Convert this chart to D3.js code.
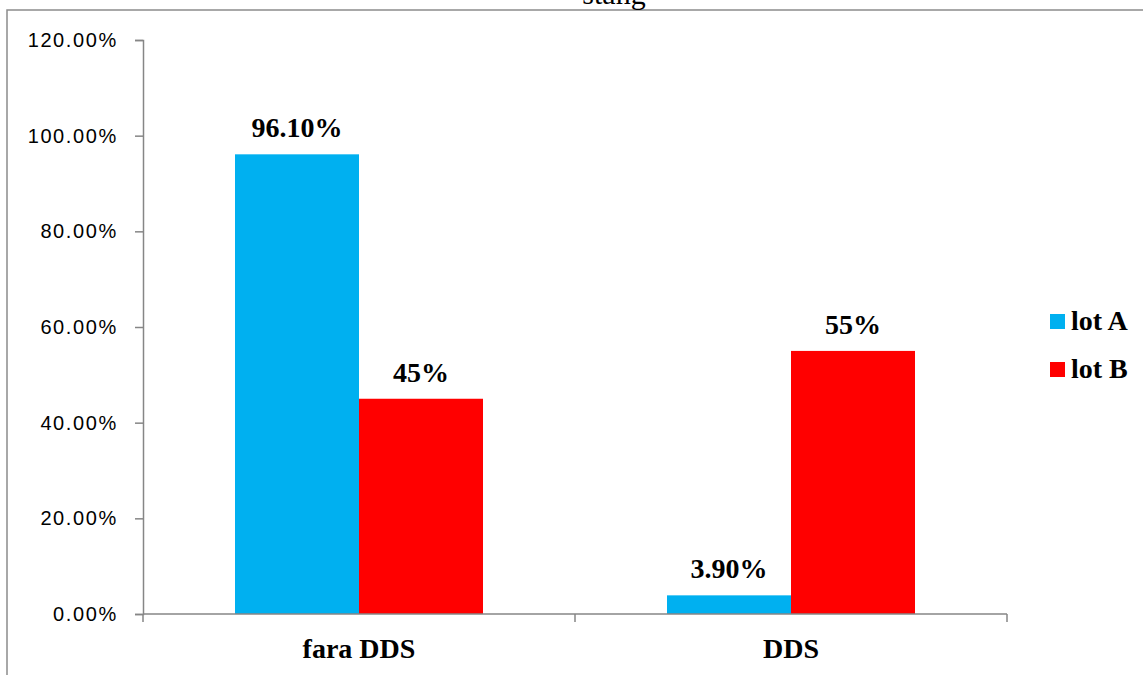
<!DOCTYPE html>
<html>
<head>
<meta charset="utf-8">
<script src="https://cdn.jsdelivr.net/npm/d3@7"></script>
<style>
  html, body { margin: 0; padding: 0; background: #fff; }
  svg { display: block; }
</style>
</head>
<body>
<svg id="chart" width="1143" height="675"></svg>
<script>
// Chart data
const categories = ["fara DDS", "DDS"];
const seriesNames = ["lot A", "lot B"];
const lotA = [0.961, 0.039];
const lotB = [0.45, 0.55];
const valueLabels = [["96.10%", "3.90%"], ["45%", "55%"]];
const yTicks = [0, 0.2, 0.4, 0.6, 0.8, 1.0, 1.2];
const colors = ["#00B0F0", "#FF0000"];

const serif = "'Liberation Serif', 'Times New Roman', serif";
const sans = "'Liberation Sans', Arial, sans-serif";

const svg = d3.select("#chart");
const plot = { left: 143, right: 1007, top: 40, bottom: 614 };

// Outer frame of the chart area
svg.append("rect")
  .attr("x", 7).attr("y", 10)
  .attr("width", 1200).attr("height", 700)
  .attr("fill", "none").attr("stroke", "#8c8c8c").attr("stroke-width", 1.5);

// Title (partly above the frame)
svg.append("text")
  .attr("x", 614).attr("y", 4)
  .attr("text-anchor", "middle")
  .attr("font-family", serif)
  .attr("font-size", 30)
  .text("stang");

const x0 = d3.scaleBand().domain(categories).range([plot.left, plot.right]).paddingInner(0).paddingOuter(0);
const x1 = d3.scaleBand().domain(seriesNames).range([0, x0.bandwidth()]).paddingInner(0).paddingOuter(0.742);
const y = d3.scaleLinear().domain([0, 1.2]).range([plot.bottom, plot.top]);

// Y axis
const yAxis = svg.append("g")
  .attr("transform", `translate(${plot.left},0)`)
  .call(d3.axisLeft(y).tickValues(yTicks).tickSize(8).tickPadding(19)
    .tickFormat(d => (d * 100).toFixed(2) + "%"));
yAxis.select(".domain").attr("stroke", "#868686").attr("stroke-width", 1.5);
yAxis.selectAll(".tick line").attr("stroke", "#868686").attr("stroke-width", 1.5);
yAxis.selectAll(".tick text")
  .attr("font-family", sans)
  .attr("font-size", 20)
  .attr("letter-spacing", 1.6)
  .attr("dx", 1.8)
  .attr("fill", "#000");

// Bars and value labels
const series = [lotA, lotB];
series.forEach((vals, si) => {
  svg.append("g").selectAll("rect")
    .data(vals)
    .join("rect")
    .attr("x", (d, i) => x0(categories[i]) + x1(seriesNames[si]))
    .attr("y", d => y(d))
    .attr("width", x1.bandwidth())
    .attr("height", d => y(0) - y(d))
    .attr("fill", colors[si]);

  svg.append("g").selectAll("text")
    .data(vals)
    .join("text")
    .attr("x", (d, i) => x0(categories[i]) + x1(seriesNames[si]) + x1.bandwidth() / 2)
    .attr("y", d => y(d) - 17)
    .attr("text-anchor", "middle")
    .attr("font-family", serif)
    .attr("font-weight", "bold")
    .attr("font-size", 28)
    .text((d, i) => valueLabels[si][i]);
});

// X axis
const xAxis = svg.append("g")
  .attr("transform", `translate(0,${plot.bottom})`);
xAxis.append("line")
  .attr("x1", plot.left).attr("x2", plot.right)
  .attr("stroke", "#868686").attr("stroke-width", 1.5);
const boundaries = [plot.left, ...categories.map(c => x0(c) + x0.bandwidth())];
xAxis.selectAll("line.tick")
  .data(boundaries)
  .join("line")
  .attr("class", "tick")
  .attr("x1", d => d).attr("x2", d => d)
  .attr("y1", 0).attr("y2", 8)
  .attr("stroke", "#868686").attr("stroke-width", 1.5);
xAxis.selectAll("text")
  .data(categories)
  .join("text")
  .attr("x", d => x0(d) + x0.bandwidth() / 2)
  .attr("y", 44)
  .attr("text-anchor", "middle")
  .attr("font-family", serif)
  .attr("font-weight", "bold")
  .attr("font-size", 28)
  .text(d => d);

// Legend
const legend = svg.append("g").attr("transform", "translate(1050,314)");
seriesNames.forEach((name, i) => {
  const g = legend.append("g").attr("transform", `translate(0,${i * 48})`);
  g.append("rect").attr("width", 15).attr("height", 15).attr("fill", colors[i]);
  g.append("text")
    .attr("x", 21).attr("y", 16)
    .attr("font-family", serif)
    .attr("font-weight", "bold")
    .attr("font-size", 28)
    .text(name);
});
</script>
</body>
</html>
